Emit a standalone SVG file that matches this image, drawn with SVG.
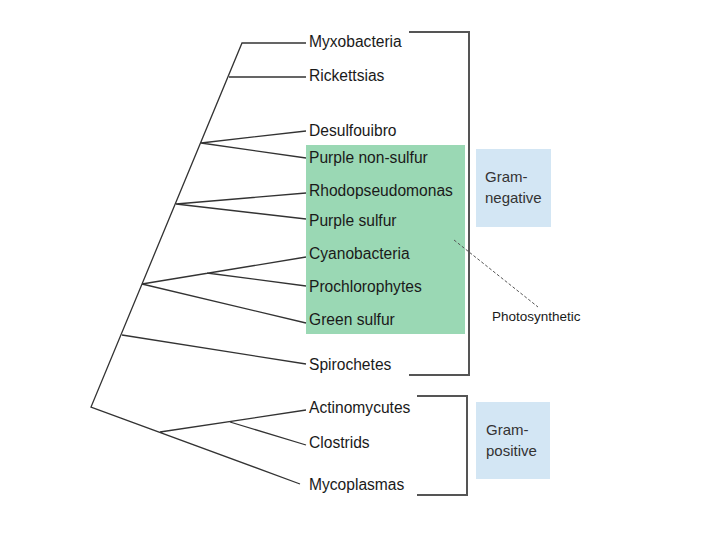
<svg xmlns="http://www.w3.org/2000/svg" width="720" height="540" viewBox="0 0 720 540">
<style>
.lbl{font-family:"Liberation Sans",Arial,sans-serif;font-size:15.6px;fill:#1a1a1a}
.grp{font-family:"Liberation Sans",Arial,sans-serif;font-size:15px;fill:#333}
.br{fill:none;stroke:#555;stroke-width:2}
.tr{fill:none;stroke:#333;stroke-width:1.3}
</style>
<rect width="720" height="540" fill="#fff"/>
<g id="photosynthetic-box"><rect x="306" y="145" width="159" height="189" fill="#9ad8b4"/></g>
<g id="gram-negative"><rect x="476" y="149" width="75" height="78" fill="#d3e6f4"/>
<text class="grp" x="485" y="182">Gram-</text><text class="grp" x="485" y="203">negative</text></g>
<g id="gram-positive"><rect x="476" y="402" width="74" height="77" fill="#d3e6f4"/>
<text class="grp" x="486" y="435">Gram-</text><text class="grp" x="486" y="456">positive</text></g>
<g id="photosynthetic-label"><text class="lbl" style="font-size:13.5px" x="492" y="321">Photosynthetic</text></g>
<g id="connectors">
<polyline class="br" points="409,32 469,32 469,375 409,375"/>
<polyline class="br" points="417,396 467,396 467,495 417,495"/>
<line x1="454" y1="240" x2="538" y2="307" stroke="#555" stroke-width="1" stroke-dasharray="3,2"/>
<path class="tr" d="M306,43 H242 L91,407 L300,484 M229,77 H306 M201,143 L306,131 M201,143 L306,158 M176,204 L306,193 M176,204 L306,219 M142,284 L306,257 M207,273 L306,286 M142,284 L306,323 M122,335 L306,364 M160,432 L306,410 M230,422 L306,445"/>
</g>
<g id="taxa">
<text class="lbl" x="309" y="47">Myxobacteria</text>
<text class="lbl" x="309" y="81">Rickettsias</text>
<text class="lbl" x="309" y="136">Desulfouibro</text>
<text class="lbl" x="309" y="163">Purple non-sulfur</text>
<text class="lbl" x="309" y="196">Rhodopseudomonas</text>
<text class="lbl" x="309" y="226">Purple sulfur</text>
<text class="lbl" x="309" y="259">Cyanobacteria</text>
<text class="lbl" x="309" y="292">Prochlorophytes</text>
<text class="lbl" x="309" y="325">Green sulfur</text>
<text class="lbl" x="309" y="370">Spirochetes</text>
<text class="lbl" x="309" y="413">Actinomycutes</text>
<text class="lbl" x="309" y="448">Clostrids</text>
<text class="lbl" x="309" y="490">Mycoplasmas</text>
</g>
</svg>
